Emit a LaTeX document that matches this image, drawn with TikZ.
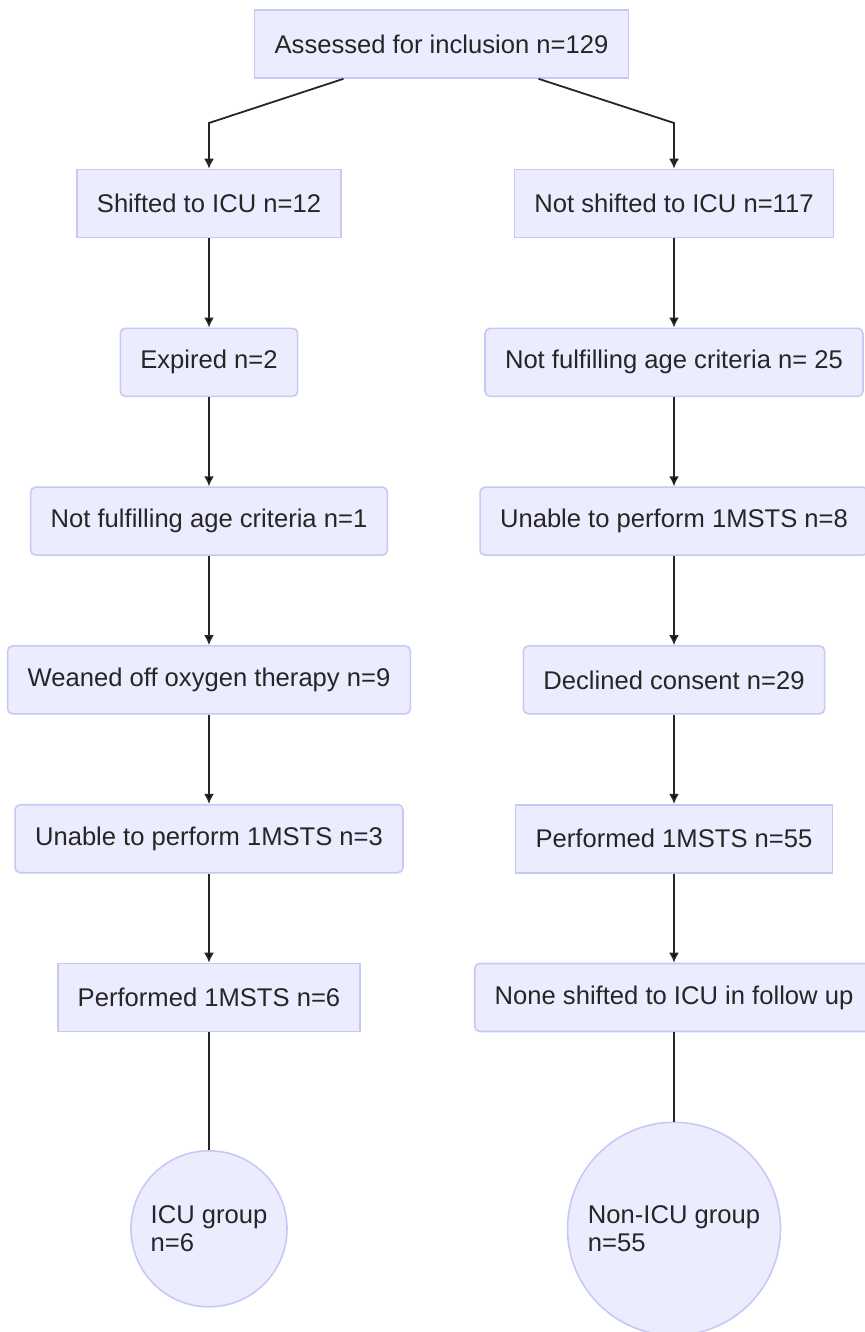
\documentclass[tikz,border=0pt]{standalone}
\usepackage{fontspec}
\setmainfont{Liberation Sans}
\usetikzlibrary{chains,positioning,arrows.meta}
\definecolor{boxfill}{HTML}{ECECFF}
\definecolor{boxline}{HTML}{C8C8F6}
\definecolor{inkgrey}{HTML}{262626}

\begin{document}
\begin{tikzpicture}[
    x=0.5pt,
    y=-0.5pt,
    node distance=44.6pt,
    font=\fontsize{12.8}{14}\selectfont,
    stage/.style={
        draw=boxline,
        fill=boxfill,
        line width=0.8pt,
        text=inkgrey,
        minimum height=34pt,
        inner xsep=10pt,
      },
    softstage/.style={stage, rounded corners=2.5pt},
    group/.style={
        stage,
        circle,
        align=left,
        inner sep=0pt,
      },
    flow/.style={-{Latex[length=5pt,width=5pt]}, line width=0.9pt, draw=inkgrey},
    tie/.style={line width=0.9pt, draw=inkgrey}
  ]
  \useasboundingbox (0,0) rectangle (864,1332);

  \node[stage] (top) at (441.5,44) {Assessed for inclusion n=129};

  % ICU side
  \begin{scope}[start chain=going below]
    \node[stage,on chain] (l1) at (209,203.5) {Shifted to ICU n=12};
    \node[softstage,on chain] (l2) {Expired n=2};
    \node[softstage,on chain] (l3) {Not fulfilling age criteria n=1};
    \node[softstage,on chain] (l4) {Weaned off oxygen therapy n=9};
    \node[softstage,on chain] (l5) {Unable to perform 1MSTS n=3};
    \node[stage,on chain] (l6) {Performed 1MSTS n=6};
  \end{scope}

  % non-ICU side
  \begin{scope}[start chain=going below]
    \node[stage,on chain] (r1) at (674,203.5) {Not shifted to ICU n=117};
    \node[softstage,on chain] (r2) {Not fulfilling age criteria n= 25};
    \node[softstage,on chain] (r3) {Unable to perform 1MSTS n=8};
    \node[softstage,on chain] (r4) {Declined consent n=29};
    \node[stage,on chain] (r5) {Performed 1MSTS n=55};
    \node[softstage,on chain] (r6) {None shifted to ICU in follow up};
    \node[group,on chain,minimum size=106.5pt] (rgroup) {Non-ICU group\\n=55};
  \end{scope}

  \node[group,minimum size=78pt] (lgroup) at (l6 |- rgroup) {ICU group\\n=6};

  \coordinate (lbend) at (l1.north |- 0,123);
  \coordinate (rbend) at (r1.north |- 0,123);
  \draw[flow] ([xshift=-49pt]top.south) -- (lbend) -- (l1);
  \draw[flow] ([xshift=48.5pt]top.south) -- (rbend) -- (r1);

  \foreach \i [count=\j from 2] in {1,...,5}
  \path[flow] (l\i) edge (l\j) (r\i) edge (r\j);

  \path[tie]
  (l6) edge (lgroup)
  (r6) edge (rgroup)
  ;
\end{tikzpicture}
\end{document}
